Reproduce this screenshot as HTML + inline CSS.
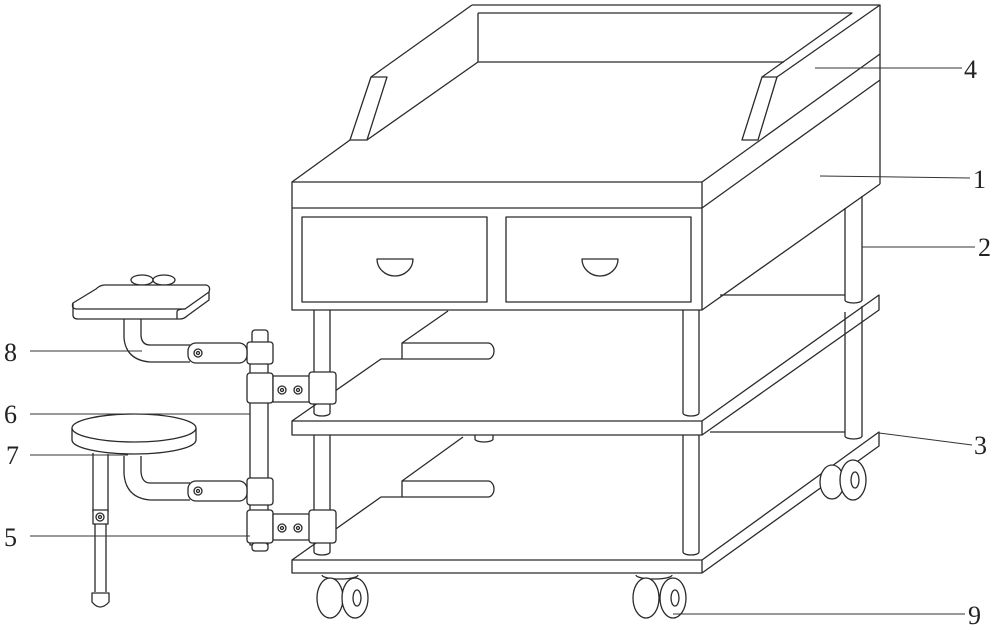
<!DOCTYPE html>
<html><head><meta charset="utf-8"><style>
html,body{margin:0;padding:0;background:#fff;}
svg{display:block}
text{font-family:"Liberation Serif",serif;font-size:26px;fill:#222}
</style></head><body>
<svg width="1000" height="630" viewBox="0 0 1000 630" xmlns="http://www.w3.org/2000/svg">
<g fill="none" stroke="#2a2a2a" stroke-width="1.3" stroke-linejoin="round">
<!-- top box front -->
<rect x="292" y="182" width="410" height="128" fill="#fff"/>
<line x1="292" y1="208" x2="702" y2="208"/>
<rect x="302" y="217" width="185" height="85"/>
<rect x="506" y="217" width="185" height="85"/>
<path d="M377 259 h36 a18 17 0 0 1 -36 0 z"/>
<path d="M582 259 h36 a18 17 0 0 1 -36 0 z"/>
<!-- right side of box -->
<path d="M702 182 L880 54 M702 208 L880 80 M702 310 L880 184 M880 5 L880 184"/>
<!-- top surface -->
<path d="M292 182 L350 140"/>
<!-- tray walls -->
<path d="M472 5 L880 5 L777 77"/>
<path d="M478 13 L852 13 L762 77"/>
<path d="M472 5 L371 77"/>
<path d="M478 13 L478 62 L784 62"/>
<path d="M478 62 L367 140"/>
<path d="M371 77 L387 77 L367 140 L350 140 Z"/>
<path d="M762 77 L777 77 L758 140 L742 140 Z"/>
<!-- legs upper -->
<path d="M314 310 V413 M330 310 V413"/>
<path d="M314 413 a8 3 0 0 0 16 0"/>
<path d="M683 310 V413 M699 310 V413 M683 413 a8 3 0 0 0 16 0"/>
<path d="M845 208 V300 M862 196 V300 M845 300 a8.5 3 0 0 0 17 0"/>
<!-- middle shelf -->
<rect x="292" y="421" width="410" height="14" fill="#fff"/>
<path d="M702 421 L879 295 L879 310 L702 435"/>
<path d="M720 295 H845"/>
<path d="M292 421 L381 359 H402 M402 359 V343 H488 a6 8 0 0 1 0 16 H402"/>
<path d="M402 343 L448 311"/>
<path d="M475 435 v4 a9 3 0 0 0 18 0 v-4"/>
<!-- lower legs -->
<path d="M314 435 V552 M330 435 V552 M314 552 a8 3 0 0 0 16 0"/>
<path d="M683 435 V552 M699 435 V552 M683 552 a8 3 0 0 0 16 0"/>
<path d="M845 312 V436 M862 306 V436 M845 436 a8.5 3 0 0 0 17 0"/>
<!-- bottom shelf -->
<rect x="292" y="560" width="410" height="13" fill="#fff"/>
<path d="M702 560 L879 432 L879 446 L702 573"/>
<path d="M710 432 H845"/>
<path d="M292 560 L381 497 H402 M402 497 V481 H488 a6 8 0 0 1 0 16 H402"/>
<path d="M402 481 L463 437"/>
<!-- wheels -->
<g fill="#fff">
<path d="M322 575 a18 4 0 0 0 36 0"/>
<ellipse cx="330" cy="598" rx="13" ry="20"/>
<ellipse cx="355" cy="598" rx="13" ry="20"/>
<ellipse cx="357" cy="598" rx="4" ry="8"/>
<path d="M636 575 a18 4 0 0 0 36 0"/>
<ellipse cx="646" cy="598" rx="13" ry="20"/>
<ellipse cx="673" cy="598" rx="13" ry="20"/>
<ellipse cx="675" cy="598" rx="4" ry="8"/>
<ellipse cx="832" cy="482" rx="12" ry="17"/>
<ellipse cx="853" cy="480" rx="13" ry="20"/>
<ellipse cx="855" cy="480" rx="4" ry="8"/>
</g>
<!-- hinge assembly -->
<g fill="#fff">
<rect x="250" y="360" width="18" height="185"/>
<rect x="252" y="330" width="16" height="14" rx="3"/>
<rect x="247" y="342" width="26" height="22" rx="3"/>
<rect x="247" y="373" width="26" height="30" rx="3"/>
<rect x="273" y="376" width="37" height="26"/>
<circle cx="282" cy="390" r="4"/><circle cx="298" cy="390" r="4"/>
<rect x="309" y="372" width="27" height="32" rx="3"/>
<rect x="247" y="478" width="26" height="27" rx="3"/>
<rect x="247" y="510" width="26" height="33" rx="3"/>
<rect x="252" y="543" width="16" height="8" rx="3"/>
<rect x="273" y="514" width="37" height="26"/>
<circle cx="282" cy="528" r="4"/><circle cx="298" cy="528" r="4"/>
<rect x="309" y="510" width="27" height="33" rx="3"/>
</g>
<circle cx="282" cy="390" r="1.5"/><circle cx="298" cy="390" r="1.5"/>
<circle cx="282" cy="528" r="1.5"/><circle cx="298" cy="528" r="1.5"/>
<!-- upper stool (8) -->
<ellipse cx="142" cy="280" rx="11" ry="5" fill="#fff"/>
<ellipse cx="164" cy="280" rx="11" ry="5" fill="#fff"/>
<path d="M105 285 H206 Q211 286 209 292 L185 309 H76 Q71 308 73 303 L96 289 Q100 285 105 285 Z" fill="#fff"/>
<path d="M73 303 V315 Q73 319 78 319 H180 Q184 319 187 316 L209 300 V292"/>
<path d="M185 309 Q177 309 177 312 V319"/>
<path d="M124 319 V338 Q126 360 150 362 H190 M141 319 V336 Q142 345 150 345 H190"/>
<rect x="188" y="343" width="59" height="20" rx="8" fill="#fff"/>
<circle cx="198" cy="353" r="4"/><circle cx="198" cy="353" r="1.5"/>
<!-- lower stool (7) -->
<path d="M72 428 V440 A62 14 0 0 0 196 440 V428" fill="#fff"/>
<ellipse cx="134" cy="428" rx="62" ry="14" fill="#fff"/>
<path d="M124 456 V474 Q126 498 150 500 H190 M141 456 V472 Q142 483 150 483 H190"/>
<rect x="188" y="481" width="59" height="20" rx="8" fill="#fff"/>
<circle cx="198" cy="491" r="4"/><circle cx="198" cy="491" r="1.5"/>
<path d="M93 453 V512 M108 454 V512"/>
<rect x="93" y="510" width="15" height="14" fill="#fff"/>
<circle cx="100" cy="517" r="4"/><circle cx="100" cy="517" r="1.5"/>
<path d="M95 524 V592 M106 524 V592"/>
<path d="M92 593 H109 V602 Q100 612 92 602 Z" fill="#fff"/>
</g>
<!-- leader lines -->
<g stroke="#333" stroke-width="1" fill="none">
<line x1="815" y1="68" x2="962" y2="68"/>
<line x1="820" y1="176" x2="970" y2="178"/>
<line x1="862" y1="247" x2="975" y2="247"/>
<line x1="879" y1="433" x2="972" y2="445"/>
<line x1="673" y1="614" x2="965" y2="614"/>
<line x1="30" y1="351" x2="142" y2="351"/>
<line x1="30" y1="414" x2="250" y2="414"/>
<line x1="30" y1="455" x2="128" y2="455"/>
<line x1="30" y1="536" x2="250" y2="536"/>
</g>
<text x="964" y="78">4</text>
<text x="973" y="188">1</text>
<text x="978" y="256">2</text>
<text x="974" y="454">3</text>
<text x="968" y="624">9</text>
<text x="4" y="361">8</text>
<text x="4" y="423">6</text>
<text x="6" y="464">7</text>
<text x="4" y="546">5</text>
</svg>
</body></html>
